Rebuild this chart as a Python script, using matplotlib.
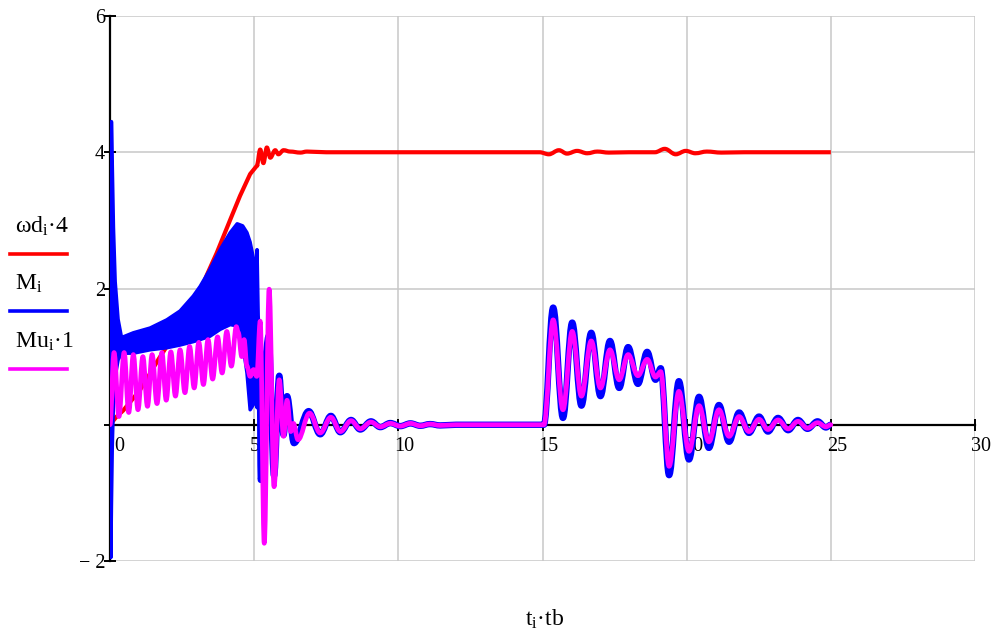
import matplotlib
matplotlib.use('Agg')
import matplotlib.pyplot as plt
from matplotlib.lines import Line2D
from matplotlib.path import Path
from matplotlib.patches import PathPatch
from matplotlib.transforms import ScaledTranslation

plt.rcParams['font.family'] = ['Liberation Serif', 'DejaVu Serif']
plt.rcParams['mathtext.fontset'] = 'custom'
plt.rcParams['mathtext.rm'] = 'Liberation Serif'
plt.rcParams['mathtext.it'] = 'Liberation Serif:italic'

# omega_d * 4 (red)
w_t = [0.0, 0.23, 0.46, 1.04, 1.33, 1.68, 2.0, 2.5, 3.0, 3.36, 3.7, 4.17, 4.51, 4.86, 5.09,
       5.21, 5.32, 5.44, 5.56, 5.73, 5.84, 6.02, 6.25, 6.6, 6.83, 7.5, 10.0, 14.9,
       15.22, 15.57, 15.85, 16.2, 16.55, 16.9, 17.3, 18.0, 18.9, 19.24, 19.62, 19.97,
       20.3, 20.7, 21.2, 22.0, 25.0]
w_y = [0.0, 0.12, 0.21, 0.51, 0.71, 0.96, 1.17, 1.45, 1.82, 2.2, 2.52, 3.01, 3.36, 3.68, 3.8,
       4.04, 3.84, 4.07, 3.92, 4.03, 3.97, 4.03, 4.01, 3.995, 4.01, 4.0, 4.0, 4.0,
       3.97, 4.03, 3.98, 4.02, 3.985, 4.01, 3.995, 4.0, 4.0, 4.05, 3.97, 4.02,
       3.985, 4.01, 3.995, 4.0, 4.0]

# M (blue): dense oscillation band at start, then single trace
band_t = [0.0, 0.03, 0.05, 0.08, 0.12, 0.18, 0.28, 0.4, 0.81, 1.39, 1.97, 2.43, 2.89, 3.125,
          3.47, 3.82, 4.17, 4.41, 4.6, 4.75, 4.86, 4.98, 5.05, 5.1, 5.14, 5.19]
band_hi = [0.0, 2.0, 4.45, 3.8, 2.9, 2.1, 1.55, 1.28, 1.35, 1.42, 1.54, 1.67, 1.89, 2.03,
           2.28, 2.57, 2.82, 2.95, 2.92, 2.82, 2.68, 2.43, 1.9, 2.57, 1.6, 1.2]
band_lo = [0.0, -1.95, -1.2, -0.3, 0.3, 0.7, 0.95, 1.05, 1.05, 1.1, 1.13, 1.17, 1.22, 1.25,
           1.3, 1.4, 1.47, 1.45, 1.2, 0.76, 0.22, 0.3, 0.5, 0.25, 0.5, 1.0]

m_t = [5.19, 5.23, 5.38, 5.5, 5.69, 5.87, 6.02, 6.14, 6.38, 6.89, 7.29, 7.66, 7.99, 8.36,
       8.68, 9.05, 9.375, 9.72, 10.07, 10.42, 10.76, 11.1, 11.45, 12.0, 15.05,
       15.37, 15.71, 16.03, 16.35, 16.69, 17.01, 17.34, 17.66, 17.97, 18.31, 18.63, 18.92,
       19.1, 19.39, 19.73, 20.08, 20.43, 20.77, 21.12, 21.47, 21.82, 22.16, 22.51, 22.82,
       23.17, 23.52, 23.86, 24.19, 24.54, 24.83, 25.0]
m_y = [1.0, -0.81, 1.0, 1.3, -0.75, 0.72, -0.15, 0.42, -0.27, 0.2, -0.14, 0.13, -0.11, 0.07,
       -0.07, 0.05, -0.035, 0.025, -0.02, 0.02, -0.015, 0.01, -0.01, 0.0, 0.0,
       1.72, 0.10, 1.50, 0.28, 1.35, 0.42, 1.23, 0.54, 1.14, 0.60, 1.07, 0.66,
       0.83, -0.74, 0.64, -0.51, 0.41, -0.34, 0.29, -0.25, 0.18, -0.12, 0.12, -0.10,
       0.10, -0.08, 0.07, -0.06, 0.05, -0.04, 0.0]

# Mu * 1 (magenta)
mu_t = [0.0, 0.14, 0.31, 0.49, 0.65, 0.81, 0.97, 1.14, 1.30, 1.46, 1.63, 1.80, 1.95, 2.11,
        2.27, 2.43, 2.60, 2.76, 2.92, 3.08, 3.24, 3.40, 3.56, 3.73, 3.89, 4.05, 4.21, 4.38,
        4.45, 4.57, 4.65, 4.75, 4.86, 4.98, 5.09, 5.21, 5.35, 5.52, 5.69, 5.87, 6.02, 6.14,
        6.27, 6.36, 6.52, 6.92, 7.29, 7.66, 7.99, 8.36, 8.68, 9.05, 9.375, 9.72, 10.07,
        10.42, 10.76, 11.1, 11.45, 12.0, 15.05,
        15.37, 15.71, 16.03, 16.35, 16.69, 17.01, 17.34, 17.66, 17.97, 18.31, 18.63, 18.92,
        19.1, 19.39, 19.73, 20.08, 20.43, 20.77, 21.12, 21.47, 21.82, 22.16, 22.51, 22.82,
        23.17, 23.52, 23.86, 24.19, 24.54, 24.83, 25.0]
mu_y = [0.0, 1.06, 0.12, 1.06, 0.18, 1.03, 0.22, 1.0, 0.27, 1.03, 0.31, 1.06, 0.36, 1.07,
        0.42, 1.10, 0.47, 1.15, 0.54, 1.21, 0.59, 1.25, 0.67, 1.29, 0.76, 1.37, 0.86, 1.44,
        1.35, 1.0, 1.25, 0.86, 0.71, 0.81, 0.71, 1.52, -1.74, 1.99, -0.91, 0.66, -0.17, 0.36,
        -0.1, 0.02, -0.22, 0.17, -0.12, 0.11, -0.10, 0.06, -0.06, 0.04, -0.03, 0.02, -0.02,
        0.02, -0.015, 0.01, -0.01, 0.0, 0.0,
        1.54, 0.22, 1.37, 0.42, 1.23, 0.54, 1.10, 0.66, 1.03, 0.72, 0.96, 0.70,
        0.78, -0.61, 0.49, -0.39, 0.28, -0.25, 0.22, -0.17, 0.12, -0.10, 0.08, -0.07,
        0.07, -0.06, 0.05, -0.05, 0.03, -0.03, 0.0]

x_ticks = [0, 5, 10, 15, 20, 25, 30]
y_ticks = [-2, 0, 2, 4, 6]
y_labels = ['\u2212 2', '', '2', '4', '6']


def wave(t, y):
    # smooth curve through the read extrema (flat tangent at each one)
    verts = [(t[0], y[0])]
    codes = [Path.MOVETO]
    for i in range(1, len(t)):
        d = (t[i] - t[i - 1]) * 0.3642
        verts += [(t[i - 1] + d, y[i - 1]), (t[i] - d, y[i]), (t[i], y[i])]
        codes += [Path.CURVE4] * 3
    return Path(verts, codes)


W, H = 997, 637
fig = plt.figure(figsize=(W / 100, H / 100), dpi=100)
ax = fig.add_axes([110 / W, 1 - 561 / H, 865 / W, 545 / H])

red, blue, mag = '#ff0000', '#0000ff', '#ff00ff'
k = w_t.index(5.09)
ax.plot(w_t[:k + 1], w_y[:k + 1], color=red, lw=3.0, zorder=3, solid_joinstyle='round')
ax.add_patch(PathPatch(wave(w_t[k:], w_y[k:]), fill=False, ec=red, lw=3.0, zorder=3,
                       joinstyle='round'))
ax.fill_between(band_t, band_lo, band_hi, color=blue, lw=0, zorder=4)
ax.plot(band_t, band_hi, color=blue, lw=2.5, zorder=4, solid_joinstyle='round')
ax.plot(band_t, band_lo, color=blue, lw=2.5, zorder=4, solid_joinstyle='round')
ax.add_patch(PathPatch(wave(m_t, m_y), fill=False, ec=blue, lw=4.6, zorder=4,
                       joinstyle='round'))
ax.add_patch(PathPatch(wave(mu_t, mu_y), fill=False, ec=mag, lw=3.4, zorder=5,
                       joinstyle='round', capstyle='round'))

ax.set_xlim(0, 30)
ax.set_ylim(-2, 6)
for s in ['top', 'right']:
    ax.spines[s].set_visible(False)
ax.spines['left'].set_position(('data', 0))
ax.spines['bottom'].set_position(('data', 0))
for s in ['left', 'bottom']:
    ax.spines[s].set_linewidth(1.6)
    ax.spines[s].set_color('black')

ax.set_xticks(x_ticks)
ax.set_xticklabels([str(v) for v in x_ticks], ha='left')
ax.set_yticks(y_ticks)
ax.set_yticklabels(y_labels)
ax.grid(True, color='#c8c8c8', lw=1.1)
ax.set_axisbelow(True)
ax.tick_params(direction='inout', length=9, width=1.4, labelsize=14.5)
ax.tick_params(axis='x', pad=4)
ax.tick_params(axis='y', pad=-1)
for i, lab in enumerate(ax.get_xticklabels()):
    dx = 4 if i == 0 else -4
    lab.set_transform(lab.get_transform() + ScaledTranslation(dx / 100, 0, fig.dpi_scale_trans))

# legend on the left
leg = [('ωd$_\\mathrm{i}$·4', red, 254),
       ('M$_\\mathrm{i}$', blue, 311),
       ('Mu$_\\mathrm{i}$·1', mag, 369)]
for txt, col, ly in leg:
    fig.text(15 / W, 1 - (ly - 21) / H, txt, fontsize=17, va='baseline', ha='left')
    fig.add_artist(Line2D([10 / W, 67 / W], [1 - ly / H] * 2, color=col, lw=2.6,
                          transform=fig.transFigure))

fig.text(545 / W, 1 - 626 / H, 't$_\\mathrm{i}$·tb', fontsize=17, ha='center', va='baseline')

fig.savefig('out.png', dpi=100)
